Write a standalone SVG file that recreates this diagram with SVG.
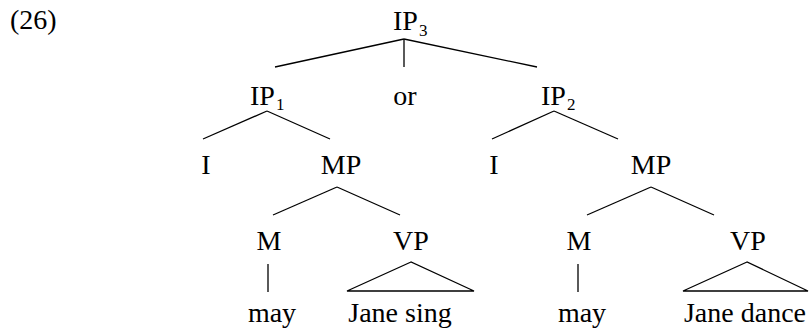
<svg xmlns="http://www.w3.org/2000/svg" width="809" height="335" viewBox="0 0 809 335">
<style>
text{font-family:"Liberation Serif","Times New Roman",serif;font-size:28px;fill:#000}
.c{text-anchor:middle}
.s{font-size:17px}
.e line,.e polygon{stroke:#000;stroke-width:1.3;fill:none}
</style>
<rect width="809" height="335" fill="#fff"/>
<text id="ex" x="10" y="29">(26)</text>
<g id="IP3"><text x="393" y="30">IP</text><text class="s" x="419" y="36">3</text></g>
<g id="IP1"><text x="250" y="105">IP</text><text class="s" x="276" y="110">1</text></g>
<g id="or"><text class="c" x="405" y="105">or</text></g>
<g id="IP2"><text x="541" y="105">IP</text><text class="s" x="567" y="110">2</text></g>
<g id="I1"><text class="c" x="206" y="174">I</text></g>
<g id="MP1"><text class="c" x="341" y="174">MP</text></g>
<g id="I2"><text class="c" x="494" y="174">I</text></g>
<g id="MP2"><text class="c" x="651" y="174">MP</text></g>
<g id="M1"><text class="c" x="269" y="250">M</text></g>
<g id="VP1"><text class="c" x="411" y="250">VP</text></g>
<g id="M2"><text class="c" x="579" y="250">M</text></g>
<g id="VP2"><text class="c" x="748" y="250">VP</text></g>
<g id="may1"><text class="c" x="272" y="322">may</text></g>
<g id="JS"><text class="c" x="400" y="322">Jane sing</text></g>
<g id="may2"><text class="c" x="582" y="322">may</text></g>
<g id="JD"><text class="c" x="745" y="322">Jane dance</text></g>
<g id="edges" class="e">
<line x1="404" y1="39" x2="275" y2="67"/>
<line x1="404" y1="39" x2="404" y2="67"/>
<line x1="404" y1="39" x2="537" y2="67"/>
<line x1="267" y1="111" x2="203" y2="139"/>
<line x1="267" y1="111" x2="330" y2="139"/>
<line x1="554" y1="111" x2="492" y2="139"/>
<line x1="554" y1="111" x2="618" y2="139"/>
<line x1="337" y1="187" x2="273" y2="215"/>
<line x1="337" y1="187" x2="400" y2="215"/>
<line x1="651" y1="187" x2="587" y2="215"/>
<line x1="651" y1="187" x2="714" y2="215"/>
<line x1="268" y1="264" x2="268" y2="292"/>
<line x1="578" y1="264" x2="578" y2="292"/>
<polygon points="411,262 347,291 474,291"/>
<polygon points="747,262 683,291 808,291"/>
</g>
</svg>
